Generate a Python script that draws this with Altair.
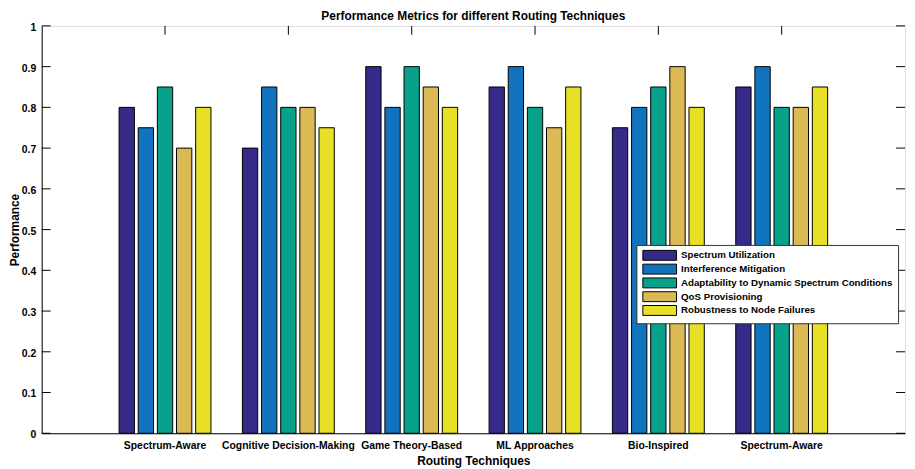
import json
import altair as alt
import pandas as pd

categories = ["Spectrum-Aware", "Cognitive Decision-Making", "Game Theory-Based",
              "ML Approaches", "Bio-Inspired", "Spectrum-Aware"]
series = ["Spectrum Utilization", "Interference Mitigation",
          "Adaptability to Dynamic Spectrum Conditions", "QoS Provisioning",
          "Robustness to Node Failures"]
spectrum_utilization = [0.80, 0.70, 0.90, 0.85, 0.75, 0.85]
interference_mitigation = [0.75, 0.85, 0.80, 0.90, 0.80, 0.90]
adaptability = [0.85, 0.80, 0.90, 0.80, 0.85, 0.80]
qos_provisioning = [0.70, 0.80, 0.85, 0.75, 0.90, 0.80]
robustness = [0.80, 0.75, 0.80, 0.85, 0.80, 0.85]
colors = ["#352A87", "#1173BE", "#08A28A", "#DBBA55", "#E8E027"]
y_ticks = [0.0, 0.1, 0.2, 0.3, 0.4, 0.5, 0.6, 0.7, 0.8, 0.9, 1.0]

values = [spectrum_utilization, interference_mitigation, adaptability,
          qos_provisioning, robustness]
rows = []
for s, vals in zip(series, values):
    for i, v in enumerate(vals):
        rows.append({"idx": i, "category": categories[i], "series": s, "value": v})
df = pd.DataFrame(rows)
ticks_df = pd.DataFrame({"t": y_ticks})
cat_df = pd.DataFrame({"idx": list(range(len(categories)))})

FONT = "Liberation Sans"
W, H = 871, 411
label_expr = json.dumps(categories) + "[datum.value]"

x_scale = alt.Scale(paddingInner=0.255, paddingOuter=0.6275)
y_scale = alt.Scale(domain=[0, 1], nice=False)

bars = alt.Chart(df).mark_bar(stroke="black", strokeWidth=1).encode(
    x=alt.X("idx:N", scale=x_scale, sort=None,
            axis=alt.Axis(title="Routing Techniques", labelExpr=label_expr,
                          labelAngle=0, ticks=False, tickSize=0, labelPadding=7,
                          titleX=W / 2, titleY=28, titleBaseline="middle",
                          titleAlign="center",
                          labelFontSize=10.5, titleFontSize=12,
                          labelFont=FONT, titleFont=FONT, labelFontWeight="bold",
                          titleFontWeight="bold", labelColor="black",
                          titleColor="black", domainColor="black", grid=False)),
    xOffset=alt.XOffset("series:N", sort=series,
                        scale=alt.Scale(paddingInner=0.2, paddingOuter=0)),
    y=alt.Y("value:Q", scale=y_scale,
            axis=alt.Axis(title="Performance", values=y_ticks, format="~g",
                          ticks=False, tickSize=0, labelPadding=6, labelOffset=1.5,
                          titleX=-23, titleY=H / 2, titleAngle=270,
                          titleBaseline="alphabetic", titleAlign="center",
                          labelFontSize=10.5, titleFontSize=12, labelFont=FONT,
                          titleFont=FONT, labelFontWeight="bold",
                          titleFontWeight="bold", labelColor="black",
                          titleColor="black", domainColor="black", grid=False)),
    color=alt.Color("series:N", sort=series,
                    scale=alt.Scale(domain=series, range=colors),
                    legend=alt.Legend(
                        title=None, orient="none", legendX=600, legendY=221,
                        symbolType="M-3.4,-1L3.4,-1L3.4,1L-3.4,1Z",
                        symbolSize=100, symbolOffset=13,
                        symbolStrokeColor="black",
                        symbolStrokeWidth=1, symbolOpacity=1,
                        labelFont=FONT, labelFontSize=9.8, labelFontWeight="bold",
                        labelColor="black", labelOffset=16, rowPadding=-1.1,
                        padding=5, strokeColor="#333333", fillColor="white",
                        cornerRadius=0, labelLimit=400)),
)

left_ticks = alt.Chart(ticks_df).mark_rule(color="black", strokeWidth=1).encode(
    y=alt.Y("t:Q", scale=y_scale), x=alt.value(0), x2=alt.value(9))
right_ticks = alt.Chart(ticks_df).mark_rule(color="black", strokeWidth=1).encode(
    y=alt.Y("t:Q", scale=y_scale), x=alt.value(W - 9), x2=alt.value(W))
top_ticks = alt.Chart(cat_df).mark_rule(color="black", strokeWidth=1).encode(
    x=alt.X("idx:N", scale=x_scale, sort=None), y=alt.value(0), y2=alt.value(9))

chart = alt.layer(bars, left_ticks, right_ticks, top_ticks).properties(
    width=W, height=H,
    title=alt.TitleParams("Performance Metrics for different Routing Techniques",
                          font=FONT, fontSize=12, fontWeight="bold", color="black",
                          anchor="middle", frame="group", offset=5, dy=6),
    autosize=alt.AutoSizeParams(type="none"),
    padding={"left": 34, "top": 16, "right": 2, "bottom": 34},
).configure_view(stroke="black", strokeWidth=1).configure(background="white")

chart.save("out.html", embed_options={"renderer": "svg", "actions": False})
